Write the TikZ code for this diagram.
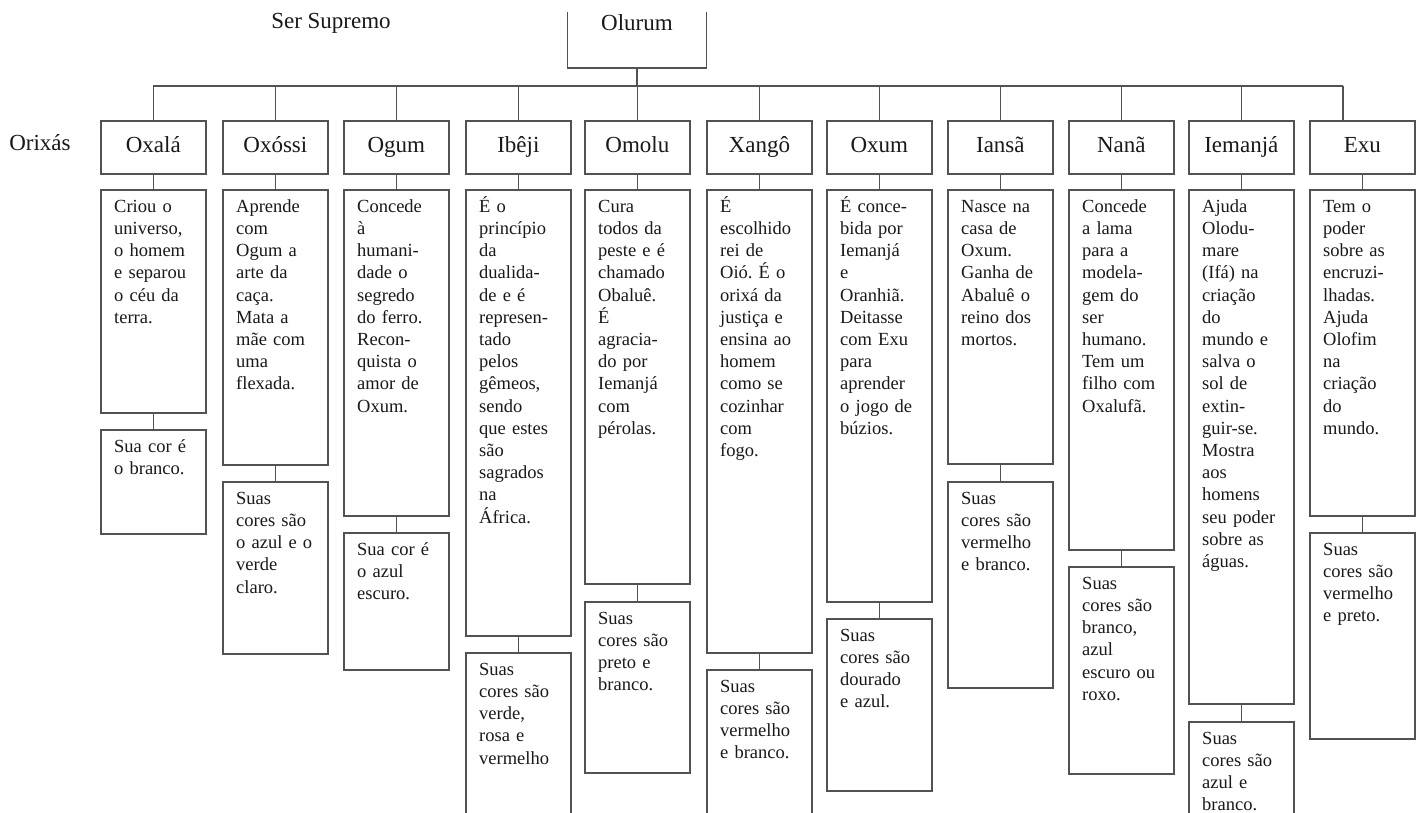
\documentclass[tikz,border=0pt]{standalone}
\usepackage{fontspec}
\setmainfont{Liberation Serif}
\frenchspacing
\newcommand\descfont{\fontsize{18.5}{22.2}\selectfont\frenchspacing}
\newcommand\namefont{\fontsize{23}{27}\selectfont}
\newcommand\firstl{\rule{0pt}{17pt}}
\tikzset{
  box/.style={draw=black!68, line width=1.7pt, minimum width=105pt, inner sep=0pt},
  namebox/.style={box, minimum height=53pt, font=\namefont, text=black!90, text height=16pt, text depth=5pt},
  lbl/.style={font=\namefont, text=black!90, inner sep=0pt},
  txt/.style={anchor=north west, inner sep=0pt, text width=88pt, align=left, font=\descfont, text=black!90},
  conn/.style={draw=black!68, line width=1.7pt}
}
\newcommand\orixacol[8]{%
  \node[namebox, anchor=north west] (t#1) at (#2,120) {#3};
  \node[box, anchor=north west, minimum height={#4-189}] (d#1) at (#2,189) {};
  \node[txt] (dt#1) at ([xshift=14pt,yshift=-6pt]d#1.north west) {\firstl#7};
  \node[box, anchor=north west, minimum height={#6-#5}] (c#1) at (#2,#5) {};
  \node[txt] (ct#1) at ([xshift=14pt,yshift=-6pt]c#1.north west) {\firstl#8};
  \draw[conn] (t#1.south) -- (d#1.north);
  \draw[conn] (d#1.south) -- (c#1.north);
}
\begin{document}
\begin{tikzpicture}[x=1pt,y=-1pt]
\useasboundingbox[fill=white] (0,0) rectangle (1421,812);
\clip (0,12) rectangle (1421,812);
\node[lbl] (ser) at (331,23) {Ser Supremo};
\node[box, minimum width=139pt, minimum height=80pt, anchor=south] (olu) at (637,69) {};
\node[lbl] (olut) at (637,23) {Olurum};
\node[lbl] (orix) at (40,143) {Orixás};
\coordinate (bar) at (0,86);
\coordinate (exuJ) at (1343,86);

\orixacol{1}{100}{Oxalá}{412}{429}{533}
 {Criou o\\universo,\\o homem\\e separou\\o céu da\\terra.}
 {Sua cor é\\o branco.}
\orixacol{2}{222}{Oxóssi}{464}{481}{653}
 {Aprende\\com\\Ogum a\\arte da\\caça.\\Mata a\\mãe com\\uma\\flexada.}
 {Suas\\cores são\\o azul e o\\verde\\claro.}
\orixacol{3}{343}{Ogum}{515}{532}{669}
 {Concede\\à\\humani-\\dade o\\segredo\\do ferro.\\Recon-\\quista o\\amor de\\Oxum.}
 {Sua cor é\\o azul\\escuro.}
\orixacol{4}{465}{Ibêji}{635}{652}{840}
 {É o\\princípio\\da\\dualida-\\de e é\\represen-\\tado\\pelos\\gêmeos,\\sendo\\que estes\\são\\sagrados\\na\\África.}
 {Suas\\cores são\\verde,\\rosa e\\vermelho}
\orixacol{5}{584}{Omolu}{583}{601}{772}
 {Cura\\todos da\\peste e é\\chamado\\Obaluê.\\É\\agracia-\\do por\\Iemanjá\\com\\pérolas.}
 {Suas\\cores são\\preto e\\branco.}
\orixacol{6}{706}{Xangô}{652}{669}{840}
 {É\\escolhido\\rei de\\Oió. É o\\orixá da\\justiça e\\ensina ao\\homem\\como se\\cozinhar\\com\\fogo.}
 {Suas\\cores são\\vermelho\\e branco.}
\orixacol{7}{826}{Oxum}{601}{618}{790}
 {É conce-\\bida por\\Iemanjá\\e\\Oranhiã.\\Deitasse\\com Exu\\para\\aprender\\o jogo de\\búzios.}
 {Suas\\cores são\\dourado\\e azul.}
\orixacol{8}{947}{Iansã}{463}{481}{687}
 {Nasce na\\casa de\\Oxum.\\Ganha de\\Abaluê o\\reino dos\\mortos.}
 {Suas\\cores são\\vermelho\\e branco.}
\orixacol{9}{1068}{Nanã}{549}{566}{773}
 {Concede\\a lama\\para a\\modela-\\gem do\\ser\\humano.\\Tem um\\filho com\\Oxalufã.}
 {Suas\\cores são\\branco,\\azul\\escuro ou\\roxo.}
\orixacol{10}{1188}{Iemanjá}{703}{721}{840}
 {Ajuda\\Olodu-\\mare\\(Ifá) na\\criação\\do\\mundo e\\salva o\\sol de\\extin-\\guir-se.\\Mostra\\aos\\homens\\seu poder\\sobre as\\águas.}
 {Suas\\cores são\\azul e\\branco.}
\orixacol{11}{1309}{Exu}{515}{532}{738}
 {Tem o\\poder\\sobre as\\encruzi-\\lhadas.\\Ajuda\\Olofim\\na\\criação\\do\\mundo.}
 {Suas\\cores são\\vermelho\\e preto.}

\draw[conn] (olu.south) -- (olu.south |- bar);
\draw[conn] (t1.north |- bar) -- (exuJ);
\foreach \i in {1,...,10} {\draw[conn] (t\i.north) -- (t\i.north |- bar);}
\draw[conn] (exuJ) -- (exuJ |- t11.north);
\end{tikzpicture}
\end{document}
